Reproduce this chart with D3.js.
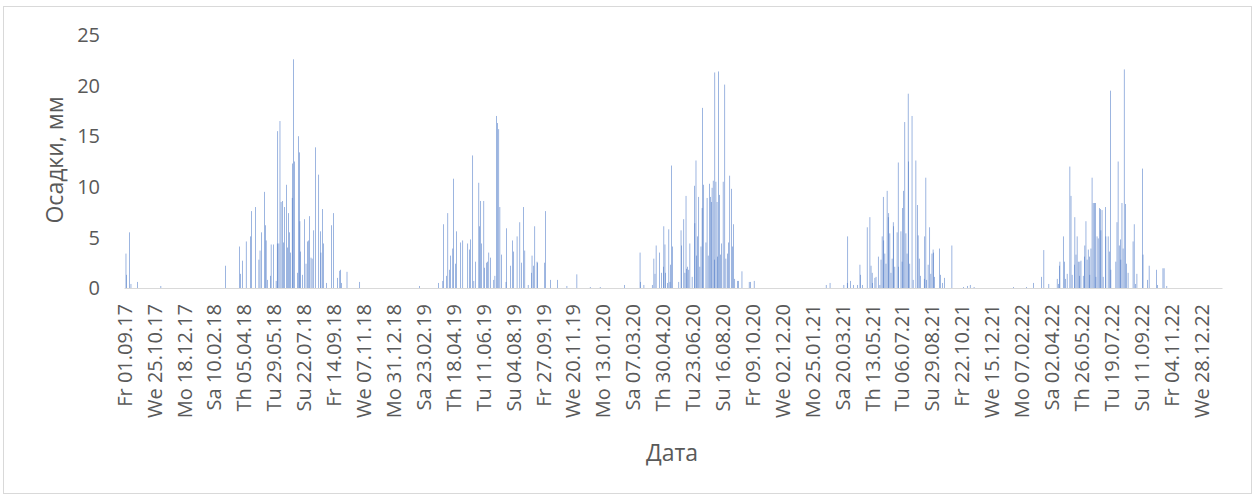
<!DOCTYPE html>
<html>
<head>
<meta charset="utf-8">
<title>Осадки</title>
<script src="https://d3js.org/d3.v7.min.js"></script>
<style>
  body { margin: 0; background: #fff; }
  text { font-family: "Open Sans", sans-serif; fill: #595959; }
</style>
</head>
<body>
<div id="chart"></div>
<script>
// daily precipitation, mm (days not listed are 0)
const rain2017 = [["2017-09-04",3.4],["2017-09-05",1.3],["2017-09-10",5.5],["2017-09-13",0.4],["2017-09-25",0.6],["2017-11-06",0.2]];
const rain2018 = [["2018-03-03",2.2],["2018-03-28",4.1],["2018-03-30",1.4],["2018-04-02",2.7],["2018-04-09",4.6],["2018-04-17",5.1],["2018-04-19",7.6],["2018-04-26",8.0],["2018-05-02",2.8],["2018-05-04",3.7],["2018-05-07",5.5],["2018-05-12",9.5],["2018-05-14",6.2],["2018-05-15",4.7],["2018-05-17",0.8],["2018-05-23",1.2],["2018-05-24",4.3],["2018-05-28",4.3],["2018-06-02",0.7],["2018-06-04",4.4],["2018-06-05",15.5],["2018-06-07",4.4],["2018-06-09",16.5],["2018-06-11",8.5],["2018-06-14",8.6],["2018-06-15",4.5],["2018-06-17",8.0],["2018-06-21",10.2],["2018-06-23",4.0],["2018-06-24",7.4],["2018-06-26",5.5],["2018-06-28",3.5],["2018-07-01",8.9],["2018-07-02",12.3],["2018-07-03",22.6],["2018-07-05",12.5],["2018-07-11",1.5],["2018-07-12",15.0],["2018-07-14",13.4],["2018-07-15",6.6],["2018-07-16",3.6],["2018-07-20",1.3],["2018-07-23",6.8],["2018-07-26",2.4],["2018-07-29",4.6],["2018-07-31",4.7],["2018-08-01",7.1],["2018-08-04",3.0],["2018-08-06",2.9],["2018-08-09",5.7],["2018-08-12",13.9],["2018-08-18",11.2],["2018-08-21",5.6],["2018-08-22",3.5],["2018-08-25",7.8],["2018-08-27",4.4],["2018-09-01",0.5],["2018-09-10",6.2],["2018-09-14",7.4],["2018-09-21",1.0],["2018-09-25",1.7],["2018-09-26",1.8],["2018-09-28",0.5],["2018-10-08",1.6],["2018-10-31",0.6]];
const rain2019 = [["2019-02-16",0.2],["2019-03-22",0.5],["2019-03-30",0.7],["2019-03-31",6.3],["2019-04-06",1.2],["2019-04-08",7.4],["2019-04-11",1.8],["2019-04-13",3.2],["2019-04-17",3.9],["2019-04-18",10.8],["2019-04-22",2.4],["2019-04-24",5.6],["2019-05-01",4.5],["2019-05-05",4.7],["2019-05-14",4.4],["2019-05-17",3.8],["2019-05-19",4.8],["2019-05-23",13.1],["2019-05-25",0.7],["2019-05-28",2.6],["2019-06-03",10.4],["2019-06-04",6.1],["2019-06-06",8.6],["2019-06-08",4.4],["2019-06-12",8.6],["2019-06-13",2.0],["2019-06-17",2.5],["2019-06-19",2.6],["2019-06-21",3.5],["2019-06-24",3.0],["2019-06-30",0.8],["2019-07-02",1.2],["2019-07-05",17.0],["2019-07-07",16.3],["2019-07-09",15.7],["2019-07-11",8.0],["2019-07-14",3.3],["2019-07-22",0.6],["2019-07-23",5.9],["2019-07-30",2.2],["2019-08-03",4.7],["2019-08-05",3.6],["2019-08-11",5.1],["2019-08-16",6.5],["2019-08-19",2.5],["2019-08-23",8.0],["2019-08-25",3.7],["2019-08-31",0.3],["2019-09-06",1.5],["2019-09-07",3.2],["2019-09-10",2.2],["2019-09-12",6.1],["2019-09-16",2.6],["2019-09-17",2.5],["2019-09-30",2.5],["2019-10-01",7.6],["2019-10-10",0.8],["2019-10-23",0.8],["2019-11-09",0.2],["2019-11-27",1.35],["2019-12-21",0.1]];
const rain2020 = [["2020-01-08",0.1],["2020-02-21",0.3],["2020-03-20",3.5],["2020-03-21",0.6],["2020-03-27",0.3],["2020-04-11",0.3],["2020-04-14",2.9],["2020-04-16",1.4],["2020-04-18",4.2],["2020-04-24",3.5],["2020-04-28",1.5],["2020-05-01",2.1],["2020-05-02",6.1],["2020-05-04",4.3],["2020-05-05",1.5],["2020-05-09",0.5],["2020-05-11",5.8],["2020-05-13",0.6],["2020-05-14",2.3],["2020-05-16",12.1],["2020-05-18",4.1],["2020-05-29",0.6],["2020-06-02",5.7],["2020-06-03",4.2],["2020-06-07",6.8],["2020-06-09",1.5],["2020-06-11",9.1],["2020-06-12",1.9],["2020-06-14",2.1],["2020-06-16",1.8],["2020-06-18",4.4],["2020-06-22",1.1],["2020-06-26",10.1],["2020-06-27",6.4],["2020-06-29",12.6],["2020-06-30",3.2],["2020-07-02",5.1],["2020-07-04",9.0],["2020-07-06",2.1],["2020-07-08",4.1],["2020-07-10",7.9],["2020-07-11",17.8],["2020-07-13",10.2],["2020-07-17",4.5],["2020-07-19",8.9],["2020-07-21",3.2],["2020-07-23",10.3],["2020-07-25",9.0],["2020-07-27",8.5],["2020-07-28",9.9],["2020-07-30",10.6],["2020-08-01",2.8],["2020-08-02",21.3],["2020-08-04",10.5],["2020-08-06",8.5],["2020-08-07",3.1],["2020-08-09",21.4],["2020-08-10",9.2],["2020-08-12",3.3],["2020-08-14",4.4],["2020-08-17",10.5],["2020-08-20",20.1],["2020-08-22",2.9],["2020-08-25",3.4],["2020-08-27",4.5],["2020-08-29",11.1],["2020-09-01",9.8],["2020-09-03",4.1],["2020-09-05",6.3],["2020-09-07",0.9],["2020-09-12",0.7],["2020-09-14",0.7],["2020-09-20",1.65],["2020-10-03",0.6],["2020-10-05",0.6],["2020-10-12",0.7]];
const rain2021 = [["2021-02-19",0.3],["2021-02-26",0.5],["2021-03-23",0.3],["2021-03-29",0.5],["2021-03-30",5.1],["2021-04-04",0.7],["2021-04-09",0.3],["2021-04-17",0.3],["2021-04-21",2.3],["2021-04-22",1.3],["2021-04-26",0.3],["2021-05-04",6.0],["2021-05-09",7.0],["2021-05-11",2.2],["2021-05-13",1.5],["2021-05-14",0.5],["2021-05-18",1.0],["2021-05-20",1.1],["2021-05-24",3.1],["2021-05-27",0.3],["2021-05-29",2.8],["2021-05-31",5.1],["2021-06-02",9.0],["2021-06-03",4.7],["2021-06-05",3.4],["2021-06-07",2.4],["2021-06-09",9.6],["2021-06-11",7.0],["2021-06-12",7.4],["2021-06-14",5.4],["2021-06-16",1.5],["2021-06-18",2.9],["2021-06-20",6.5],["2021-06-21",6.1],["2021-06-23",2.1],["2021-06-27",5.5],["2021-06-29",12.4],["2021-06-30",2.1],["2021-07-04",5.6],["2021-07-06",2.6],["2021-07-07",7.9],["2021-07-09",9.6],["2021-07-11",16.4],["2021-07-13",5.4],["2021-07-15",3.4],["2021-07-17",19.2],["2021-07-18",12.5],["2021-07-20",2.4],["2021-07-24",17.0],["2021-07-26",0.8],["2021-07-31",12.6],["2021-08-03",8.2],["2021-08-04",5.2],["2021-08-06",2.9],["2021-08-08",1.2],["2021-08-15",0.9],["2021-08-16",5.1],["2021-08-18",10.9],["2021-08-19",0.8],["2021-08-22",2.3],["2021-08-25",6.0],["2021-08-27",1.4],["2021-08-29",3.4],["2021-08-31",3.8],["2021-09-01",3.5],["2021-09-03",1.1],["2021-09-12",3.9],["2021-09-13",1.3],["2021-09-17",0.5],["2021-09-21",1.0],["2021-10-04",4.2],["2021-10-25",0.1],["2021-11-01",0.2],["2021-11-06",0.3],["2021-11-13",0.1]];
const rain2022 = [["2022-01-23",0.1],["2022-02-16",0.1],["2022-02-28",0.5],["2022-03-15",1.1],["2022-03-19",3.75],["2022-03-28",0.4],["2022-04-12",0.9],["2022-04-14",0.4],["2022-04-16",2.2],["2022-04-17",2.6],["2022-04-23",5.1],["2022-04-25",2.6],["2022-04-27",0.9],["2022-04-30",1.4],["2022-05-05",12.0],["2022-05-07",9.1],["2022-05-09",1.3],["2022-05-13",2.3],["2022-05-14",7.0],["2022-05-16",3.3],["2022-05-18",5.1],["2022-05-20",2.6],["2022-05-22",1.2],["2022-05-23",2.6],["2022-05-25",2.7],["2022-05-29",1.2],["2022-05-31",3.1],["2022-06-01",4.2],["2022-06-03",6.6],["2022-06-05",2.8],["2022-06-07",3.8],["2022-06-09",3.1],["2022-06-10",1.3],["2022-06-12",3.9],["2022-06-14",10.9],["2022-06-16",8.4],["2022-06-18",8.4],["2022-06-20",8.4],["2022-06-21",1.1],["2022-06-23",5.1],["2022-06-25",4.9],["2022-06-27",7.9],["2022-06-29",7.8],["2022-06-30",5.7],["2022-07-02",7.7],["2022-07-04",1.1],["2022-07-08",8.0],["2022-07-09",5.1],["2022-07-13",5.1],["2022-07-15",3.6],["2022-07-17",19.5],["2022-07-18",1.8],["2022-07-27",2.6],["2022-07-29",6.5],["2022-07-31",12.5],["2022-08-02",4.2],["2022-08-04",4.8],["2022-08-05",2.8],["2022-08-07",8.4],["2022-08-09",3.9],["2022-08-11",21.6],["2022-08-13",8.3],["2022-08-15",2.4],["2022-08-18",1.5],["2022-08-27",4.6],["2022-08-29",6.3],["2022-08-31",0.4],["2022-09-03",1.4],["2022-09-13",11.8],["2022-09-14",3.3],["2022-09-22",0.8],["2022-09-25",2.2],["2022-10-08",1.8],["2022-10-10",0.3],["2022-10-20",1.95],["2022-10-22",1.95],["2022-10-27",0.2]];

const firstDay = "2017-09-01";
const lastDay = "2023-02-03";
const yTicks = [0, 5, 10, 15, 20, 25];
const labelEvery = 54; // one date label per 54 days
const weekDays = ["Su", "Mo", "Tu", "We", "Th", "Fr", "Sa"];

const width = 1257, height = 499;
const parse = d3.utcParse("%Y-%m-%d");
const key = d3.utcFormat("%Y-%m-%d");
const dmy = d3.utcFormat("%d.%m.%y");

const rainMap = new Map([].concat(rain2017, rain2018, rain2019, rain2020, rain2021, rain2022));
const days = d3.utcDay.range(parse(firstDay), d3.utcDay.offset(parse(lastDay), 1)).map(key);
const series = days.map(d => ({ day: d, mm: rainMap.get(d) || 0 }));

const svg = d3.select("#chart").append("svg")
  .attr("width", width).attr("height", height);

svg.append("rect")
  .attr("x", 3.5).attr("y", 6.5)
  .attr("width", 1248).attr("height", 487)
  .attr("fill", "#fff").attr("stroke", "#d9d9d9");

const x = d3.scaleBand().domain(days).range([124, 1222]).paddingInner(0.05).paddingOuter(0.1);
const y = d3.scaleLinear().domain([0, 25]).range([288, 35]);

// y tick labels (no axis line, no grid)
svg.append("g").selectAll("text").data(yTicks).join("text")
  .attr("x", 100).attr("y", d => y(d)).attr("dy", "0.36em")
  .attr("text-anchor", "end").style("font-size", "20px")
  .text(d => d);

// bars
svg.append("g").selectAll("rect").data(series.filter(d => d.mm > 0)).join("rect")
  .attr("x", d => x(d.day))
  .attr("width", x.bandwidth())
  .attr("y", d => y(d.mm))
  .attr("height", d => y(0) - y(d.mm))
  .attr("fill", "#4472C4");

// x axis
const xAxis = d3.axisBottom(x)
  .tickValues(days.filter((d, i) => i % labelEvery === 0))
  .tickSize(0)
  .tickFormat(d => weekDays[parse(d).getUTCDay()] + " " + dmy(parse(d)));

const gx = svg.append("g").attr("transform", "translate(0,288)").call(xAxis);
gx.select(".domain").attr("stroke", "#d9d9d9").attr("stroke-width", 1);
gx.selectAll("text")
  .attr("transform", "rotate(-90)")
  .attr("x", -16).attr("y", 0).attr("dy", "0.36em")
  .attr("text-anchor", "end")
  .attr("fill", "#595959")
  .style("font-family", "Open Sans, sans-serif")
  .style("font-size", "20px");

// axis titles
svg.append("text")
  .attr("transform", "translate(63,160) rotate(-90)")
  .attr("text-anchor", "middle").style("font-size", "23px")
  .text("Осадки, мм");

svg.append("text")
  .attr("x", 672).attr("y", 461)
  .attr("text-anchor", "middle").style("font-size", "23px")
  .text("Дата");
</script>
</body>
</html>
